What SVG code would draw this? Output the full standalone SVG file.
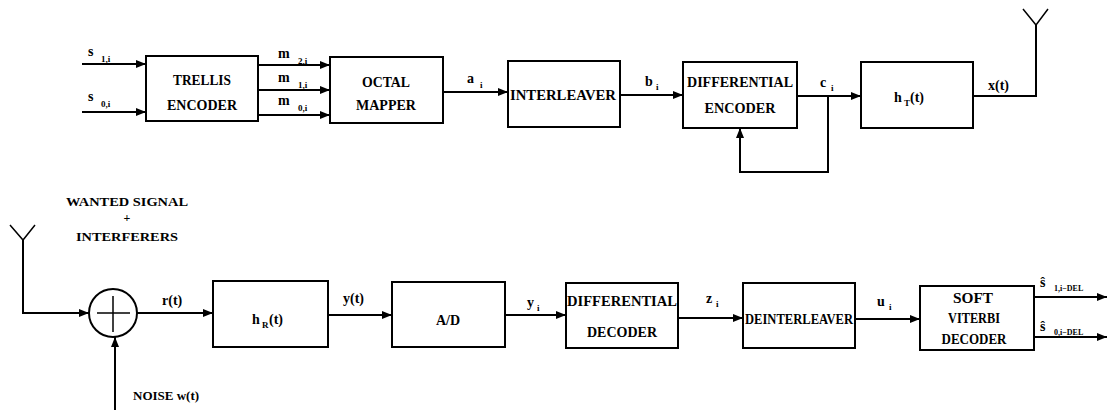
<svg xmlns="http://www.w3.org/2000/svg" width="1107" height="412" viewBox="0 0 1107 412">
<style>
.box{fill:#fff;stroke:#000;stroke-width:2}
.ln{fill:none;stroke:#000;stroke-width:2}
.th{fill:none;stroke:#000;stroke-width:1.5}
.t{font-family:"Liberation Serif",serif;font-weight:bold;font-size:14px;text-anchor:middle;fill:#000}
.v{font-family:"Liberation Serif",serif;font-weight:bold;font-size:14px;fill:#000}
.s{font-family:"Liberation Serif",serif;font-weight:bold;font-size:9px;fill:#000}
</style>
<defs>
<marker id="ar" viewBox="0 0 10 8" refX="10" refY="4" markerWidth="10" markerHeight="8" markerUnits="userSpaceOnUse" orient="auto">
<path d="M0,0 L10,4 L0,8 Z" fill="#000"/>
</marker>
</defs>
<rect width="1107" height="412" fill="#fff"/>

<g id="connectors">
<line class="ln" x1="82" y1="64" x2="146" y2="64" marker-end="url(#ar)"/>
<line class="ln" x1="82" y1="112" x2="146" y2="112" marker-end="url(#ar)"/>
<line class="ln" x1="258" y1="65" x2="330" y2="65" marker-end="url(#ar)"/>
<line class="ln" x1="258" y1="90" x2="330" y2="90" marker-end="url(#ar)"/>
<line class="ln" x1="258" y1="115" x2="330" y2="115" marker-end="url(#ar)"/>
<line class="ln" x1="443" y1="92" x2="508" y2="92" marker-end="url(#ar)"/>
<line class="ln" x1="620" y1="95" x2="683" y2="95" marker-end="url(#ar)"/>
<line class="ln" x1="797" y1="96" x2="861" y2="96" marker-end="url(#ar)"/>
<polyline class="ln" points="828,96 828,172 740,172 740,128" marker-end="url(#ar)"/>
<polyline class="ln" points="973,96 1036,96 1036,25"/>
<polyline class="th" points="1023,9 1036,25 1048,9"/>

<polyline class="th" points="10,225 23,240 35,225"/>
<polyline class="ln" points="23,240 23,313 89,313" marker-end="url(#ar)"/>
<line class="ln" x1="115" y1="410" x2="115" y2="337" marker-end="url(#ar)"/>
<line class="ln" x1="137" y1="313" x2="213" y2="313" marker-end="url(#ar)"/>
<line class="ln" x1="328" y1="315" x2="392" y2="315" marker-end="url(#ar)"/>
<line class="ln" x1="505" y1="315" x2="566" y2="315" marker-end="url(#ar)"/>
<line class="ln" x1="678" y1="318" x2="743" y2="318" marker-end="url(#ar)"/>
<line class="ln" x1="855" y1="319" x2="920" y2="319" marker-end="url(#ar)"/>
<line class="ln" x1="1034" y1="297" x2="1107" y2="297" marker-end="url(#ar)"/>
<line class="ln" x1="1034" y1="337" x2="1107" y2="337" marker-end="url(#ar)"/>
</g>

<g id="trellis-encoder">
<rect class="box" x="146" y="56" width="112" height="65"/>
<text class="t" x="202" y="85" textLength="58" lengthAdjust="spacingAndGlyphs">TRELLIS</text>
<text class="t" x="202" y="110" textLength="70" lengthAdjust="spacingAndGlyphs">ENCODER</text>
</g>
<g id="octal-mapper">
<rect class="box" x="330" y="57" width="113" height="66"/>
<text class="t" x="386" y="87" textLength="48" lengthAdjust="spacingAndGlyphs">OCTAL</text>
<text class="t" x="386" y="110" textLength="60" lengthAdjust="spacingAndGlyphs">MAPPER</text>
</g>
<g id="interleaver">
<rect class="box" x="508" y="61" width="112" height="66"/>
<text class="t" x="563" y="100" textLength="106" lengthAdjust="spacingAndGlyphs">INTERLEAVER</text>
</g>
<g id="differential-encoder">
<rect class="box" x="683" y="62" width="114" height="66"/>
<text class="t" x="740" y="87" textLength="106" lengthAdjust="spacingAndGlyphs">DIFFERENTIAL</text>
<text class="t" x="740" y="113" textLength="71" lengthAdjust="spacingAndGlyphs">ENCODER</text>
</g>
<g id="tx-filter">
<rect class="box" x="861" y="62" width="112" height="66"/>
<text class="v" x="894" y="102">h</text><text class="s" x="904" y="106">T</text><text class="v" x="910" y="102">(t)</text>
</g>

<g id="summer">
<circle class="ln" cx="113" cy="313" r="24" fill="#fff"/>
<line class="th" x1="97" y1="313" x2="130" y2="313"/>
<line class="th" x1="113" y1="296" x2="113" y2="332"/>
</g>
<g id="rx-filter">
<rect class="box" x="213" y="281" width="115" height="66"/>
<text class="v" x="252" y="324">h</text><text class="s" x="262" y="328">R</text><text class="v" x="269" y="324">(t)</text>
</g>
<g id="ad">
<rect class="box" x="392" y="282" width="113" height="65"/>
<text class="t" x="448" y="325">A/D</text>
</g>
<g id="differential-decoder">
<rect class="box" x="566" y="283" width="112" height="65"/>
<text class="t" x="622" y="306" textLength="110" lengthAdjust="spacingAndGlyphs">DIFFERENTIAL</text>
<text class="t" x="622" y="337" textLength="70" lengthAdjust="spacingAndGlyphs">DECODER</text>
</g>
<g id="deinterleaver">
<rect class="box" x="743" y="283" width="112" height="65"/>
<text class="t" x="799" y="324" textLength="108" lengthAdjust="spacingAndGlyphs">DEINTERLEAVER</text>
</g>
<g id="soft-viterbi-decoder">
<rect class="box" x="920" y="286" width="114" height="64"/>
<text class="t" x="973" y="303" textLength="40" lengthAdjust="spacingAndGlyphs">SOFT</text>
<text class="t" x="974" y="323" textLength="52" lengthAdjust="spacingAndGlyphs">VITERBI</text>
<text class="t" x="974" y="344" textLength="65" lengthAdjust="spacingAndGlyphs">DECODER</text>
</g>

<g id="labels">
<text class="v" x="88" y="56">s</text><text class="s" x="101" y="62">1,i</text>
<text class="v" x="88" y="101">s</text><text class="s" x="101" y="107">0,i</text>
<text class="v" x="278" y="58">m</text><text class="s" x="298" y="64">2,i</text>
<text class="v" x="278" y="82">m</text><text class="s" x="298" y="88">1,i</text>
<text class="v" x="278" y="105">m</text><text class="s" x="298" y="111">0,i</text>
<text class="v" x="467" y="83">a</text><text class="s" x="480" y="88">i</text>
<text class="v" x="645" y="86">b</text><text class="s" x="656" y="90">i</text>
<text class="v" x="820" y="87">c</text><text class="s" x="831" y="91">i</text>
<text class="v" x="988" y="90">x(t)</text>
<text class="t" x="127" y="206" textLength="122" lengthAdjust="spacingAndGlyphs" style="font-size:12px">WANTED  SIGNAL</text>
<text class="t" x="127" y="222" style="font-size:12px">+</text>
<text class="t" x="127" y="241" textLength="102" lengthAdjust="spacingAndGlyphs" style="font-size:12px">INTERFERERS</text>
<text class="v" x="162" y="305">r(t)</text>
<text class="v" x="133" y="400" style="font-size:13px">NOISE  w(t)</text>
<text class="v" x="343" y="303">y(t)</text>
<text class="v" x="527" y="307">y</text><text class="s" x="537" y="311">i</text>
<text class="v" x="706" y="303">z</text><text class="s" x="716" y="307">i</text>
<text class="v" x="877" y="306">u</text><text class="s" x="889" y="310">i</text>
<text class="v" x="1040" y="287">ŝ</text><text class="s" x="1054" y="291" style="font-size:8px">1,i−DEL</text>
<text class="v" x="1040" y="331">ŝ</text><text class="s" x="1054" y="335" style="font-size:8px">0,i−DEL</text>
</g>
</svg>
